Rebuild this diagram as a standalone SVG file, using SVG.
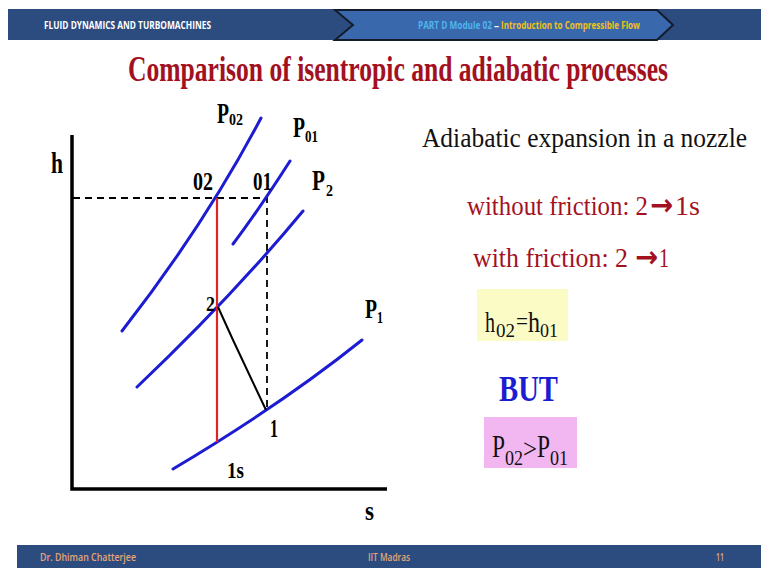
<svg xmlns="http://www.w3.org/2000/svg" width="761" height="570" viewBox="0 0 761 570">
<style>
.bar{fill:#2c4c80}
.hdr{font-family:"Open Sans","Liberation Sans",sans-serif;font-weight:bold;font-size:10px}
.ftr{font-family:"Open Sans","Liberation Sans",sans-serif;font-size:10px;font-weight:600;fill:#e8a574}
.sb{font-family:"Liberation Serif","Times New Roman",serif;font-weight:bold;fill:#000}
.sr{font-family:"Liberation Serif","Times New Roman",serif;fill:#111}
.arr{font-family:"DejaVu Sans",sans-serif;font-weight:bold}
.red{fill:#a3111f}
.iso{fill:none;stroke:#1c1cd2;stroke-width:3;stroke-linecap:round}
.dash{fill:none;stroke:#000;stroke-width:1.8;stroke-dasharray:7 5}
.axis{fill:none;stroke:#000;stroke-width:3.5}
</style>
<rect width="761" height="570" fill="#ffffff"/>
<g id="header">
  <rect class="bar" x="8" y="9" width="753" height="31"/>
  <text class="hdr" x="44" y="29" fill="#ffffff" textLength="167" lengthAdjust="spacingAndGlyphs">FLUID DYNAMICS AND TURBOMACHINES</text>
  <polygon points="335,10 657,10 673,25 657,40 335,40 353,25" fill="#3a68ad" stroke="#141c2c" stroke-width="2"/>
  <text class="hdr" x="418" y="29" fill="#4fb4ee" textLength="74" lengthAdjust="spacingAndGlyphs" font-weight="normal">PART D Module 02</text>
  <text class="hdr" x="494" y="29" fill="#ffffff" font-weight="normal">–</text>
  <text class="hdr" x="501" y="29" fill="#f0c020" textLength="139" lengthAdjust="spacingAndGlyphs">Introduction to Compressible Flow</text>
</g>
<g id="footer">
  <rect class="bar" x="17" y="545" width="744" height="23"/>
  <text class="ftr" x="40" y="561" textLength="96" lengthAdjust="spacingAndGlyphs">Dr. Dhiman Chatterjee</text>
  <text class="ftr" x="368" y="561" textLength="42" lengthAdjust="spacingAndGlyphs">IIT Madras</text>
  <text class="ftr" x="716" y="561" textLength="8" lengthAdjust="spacingAndGlyphs">11</text>
</g>
<g id="title">
  <text class="sb red" x="128" y="81" font-size="35" textLength="540" lengthAdjust="spacingAndGlyphs">Comparison of isentropic and adiabatic processes</text>
</g>
<g id="axes">
  <path class="axis" d="M72,135 V489 H387"/>
  <text class="sb" x="51" y="173" font-size="30" textLength="12" lengthAdjust="spacingAndGlyphs">h</text>
  <text class="sb" x="365" y="520" font-size="28" textLength="9" lengthAdjust="spacingAndGlyphs">s</text>
</g>
<g id="connectors">
  <path class="dash" d="M73,198 H267 V410"/>
  <path class="iso" d="M122,331 Q205,224.5 261,118"/>
  <path class="iso" d="M233,244 Q258,211 290,161"/>
  <path class="iso" d="M137,387 Q230,299 303,211"/>
  <path class="iso" d="M173,469 Q281.5,404.5 362,340"/>
  <line x1="217" y1="198" x2="217" y2="442" stroke="#e02424" stroke-width="2.2"/>
  <polyline points="218,307 233,340 266,410" fill="none" stroke="#000" stroke-width="2" stroke-linejoin="round"/>
</g>
<g id="node-P02">
  <text class="sb" x="217" y="123" font-size="29" textLength="12" lengthAdjust="spacingAndGlyphs">P</text>
  <text class="sb" x="229" y="125" font-size="17" textLength="14" lengthAdjust="spacingAndGlyphs">02</text>
</g>
<g id="node-P01">
  <text class="sb" x="293" y="137" font-size="29" textLength="12" lengthAdjust="spacingAndGlyphs">P</text>
  <text class="sb" x="305" y="142" font-size="17" textLength="13" lengthAdjust="spacingAndGlyphs">01</text>
</g>
<g id="node-P2">
  <text class="sb" x="312" y="190" font-size="29" textLength="13" lengthAdjust="spacingAndGlyphs">P</text>
  <text class="sb" x="326" y="196" font-size="17" textLength="7" lengthAdjust="spacingAndGlyphs">2</text>
</g>
<g id="node-P1">
  <text class="sb" x="365" y="318" font-size="28" textLength="12" lengthAdjust="spacingAndGlyphs">P</text>
  <text class="sb" x="377" y="323" font-size="17" textLength="6" lengthAdjust="spacingAndGlyphs">1</text>
</g>
<g id="node-02">
  <text class="sb" x="193" y="190" font-size="25" textLength="20" lengthAdjust="spacingAndGlyphs">02</text>
</g>
<g id="node-01">
  <text class="sb" x="253" y="190" font-size="25" textLength="19" lengthAdjust="spacingAndGlyphs">01</text>
</g>
<g id="node-2">
  <text class="sb" x="206" y="311" font-size="22" textLength="9" lengthAdjust="spacingAndGlyphs">2</text>
</g>
<g id="node-1">
  <text class="sb" x="270" y="437" font-size="25" textLength="8" lengthAdjust="spacingAndGlyphs">1</text>
</g>
<g id="node-1s">
  <text class="sb" x="227" y="478" font-size="24" textLength="17" lengthAdjust="spacingAndGlyphs">1s</text>
</g>
<g id="panel">
  <text class="sr" x="422" y="147" font-size="27" textLength="325" lengthAdjust="spacingAndGlyphs">Adiabatic expansion in a nozzle</text>
  <text class="sr red" x="467" y="215" font-size="27" textLength="181" lengthAdjust="spacingAndGlyphs">without friction: 2</text>
  <text class="arr red" x="650" y="215" font-size="30" textLength="23" lengthAdjust="spacingAndGlyphs">→</text>
  <text class="sr red" x="675" y="215" font-size="27" textLength="25" lengthAdjust="spacingAndGlyphs">1s</text>
  <text class="sr red" x="473" y="267" font-size="27" textLength="155" lengthAdjust="spacingAndGlyphs">with friction: 2</text>
  <text class="arr red" x="635" y="267" font-size="30" textLength="23" lengthAdjust="spacingAndGlyphs">→</text>
  <text class="sr red" x="659" y="267" font-size="27" textLength="10" lengthAdjust="spacingAndGlyphs">1</text>
  <g id="box-h">
    <rect x="477" y="289" width="91" height="52" fill="#fbfbc6"/>
    <text class="sr" x="485" y="332" font-size="30" textLength="10" lengthAdjust="spacingAndGlyphs">h</text>
    <text class="sr" x="496" y="337" font-size="19" textLength="19" lengthAdjust="spacingAndGlyphs">02</text>
    <text class="sr" x="516" y="329" font-size="24" textLength="12" lengthAdjust="spacingAndGlyphs">=</text>
    <text class="sr" x="528" y="332" font-size="30" textLength="12" lengthAdjust="spacingAndGlyphs">h</text>
    <text class="sr" x="540" y="337" font-size="19" textLength="18" lengthAdjust="spacingAndGlyphs">01</text>
  </g>
  <text class="sb" x="499" y="401" font-size="36" style="fill:#1c1cd0" textLength="59" lengthAdjust="spacingAndGlyphs">BUT</text>
  <g id="box-p">
    <rect x="484" y="417" width="93" height="51" fill="#f2b6f0"/>
    <text class="sr" x="492" y="457" font-size="32" textLength="13" lengthAdjust="spacingAndGlyphs">P</text>
    <text class="sr" x="505" y="465" font-size="20" textLength="18" lengthAdjust="spacingAndGlyphs">02</text>
    <text class="sr" x="523" y="458" font-size="28" textLength="14" lengthAdjust="spacingAndGlyphs">&gt;</text>
    <text class="sr" x="537" y="457" font-size="32" textLength="13" lengthAdjust="spacingAndGlyphs">P</text>
    <text class="sr" x="550" y="465" font-size="20" textLength="18" lengthAdjust="spacingAndGlyphs">01</text>
  </g>
</g>
</svg>
